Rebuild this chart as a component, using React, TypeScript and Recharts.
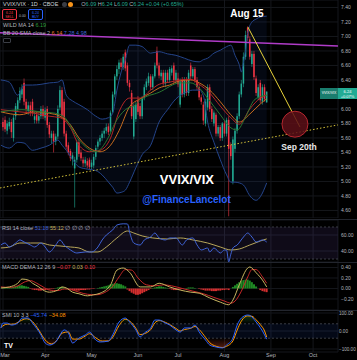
import React from 'react'
import {
  Area,
  Bar,
  CartesianGrid,
  Cell,
  ComposedChart,
  Line,
  ReferenceArea,
  ReferenceDot,
  ReferenceLine,
  XAxis,
  YAxis,
} from 'recharts'

// trading-day index: 0 = Mar 1
const months = ['Mar', 'Apr', 'May', 'Jun', 'Jul', 'Aug', 'Sep', 'Oct']
const monthIdx = [0, 20, 42, 64, 83, 105, 127, 147]

const opens = [
  5.82, 5.85, 5.7, 5.76, 5.82, 5.6, 5.9, 6.0, 6.12, 6.2, 6.36, 6.1, 5.97, 6.05, 6.1, 5.85, 5.92, 5.84, 5.9, 6.0,
  5.88, 6.0, 5.78, 5.6, 5.66, 5.55, 5.62, 6.02, 6.26, 6.1, 5.66, 5.5, 5.42, 5.3, 5.18, 5.3, 5.54, 5.4, 5.3, 5.25,
  5.28, 5.3, 5.2, 5.22, 5.34, 5.48, 5.55, 5.6, 5.66, 5.7, 5.76, 5.7, 5.96, 6.2, 6.45, 6.55, 6.64, 6.58, 6.78, 6.6,
  6.36, 6.22, 5.62, 5.86, 6.12, 6.04, 5.9, 6.15, 6.3, 6.36, 6.45, 6.3, 6.45, 6.8, 6.6, 6.45, 6.5, 6.35, 6.5, 6.4,
  6.5, 6.6, 6.4, 6.42, 6.06, 6.4, 6.2, 6.4, 6.22, 6.6, 6.45, 6.55, 6.4, 6.3, 6.16, 6.06, 5.8, 6.02, 6.3, 6.0,
  5.8, 5.92, 5.66, 5.75, 5.6, 5.8, 5.66, 5.85, 5.5, 5.0, 5.45, 5.7, 5.9, 6.2, 6.35, 6.72, 7.12, 6.96, 6.62, 6.76,
  6.42, 6.16, 6.36, 6.1, 6.3, 6.09,
]
const highs = [
  5.88, 5.9, 5.84, 5.88, 5.86, 5.92, 6.08, 6.16, 6.3, 6.34, 6.42, 6.14, 6.1, 6.1, 6.14, 5.96, 5.96, 5.94, 6.04, 6.05,
  6.02, 6.04, 5.82, 5.7, 5.7, 5.66, 6.05, 6.32, 6.3, 6.14, 5.7, 5.54, 5.45, 5.4, 5.34, 5.58, 5.58, 5.44, 5.34, 5.34,
  5.32, 5.33, 5.3, 5.38, 5.5, 5.58, 5.64, 5.7, 5.74, 5.8, 5.8, 5.98, 6.24, 6.48, 6.6, 6.68, 6.7, 6.76, 6.82, 6.64,
  6.4, 6.26, 6.08, 6.1, 6.18, 6.08, 6.18, 6.34, 6.42, 6.5, 6.48, 6.48, 6.64, 6.86, 6.64, 6.54, 6.54, 6.54, 6.54, 6.58,
  6.6, 6.64, 6.54, 6.5, 6.42, 6.44, 6.44, 6.44, 6.54, 6.64, 6.58, 6.58, 6.44, 6.34, 6.2, 6.1, 6.14, 6.34, 6.34, 6.04,
  5.98, 5.95, 5.78, 5.78, 5.82, 5.84, 5.88, 5.9, 5.54, 5.62, 5.74, 5.94, 6.24, 6.4, 6.78, 7.08, 7.14, 7.0, 6.8, 6.8,
  6.46, 6.34, 6.4, 6.34, 6.34, 6.24,
]
const lows = [
  5.7, 5.68, 5.65, 5.72, 5.6, 5.55, 5.85, 5.96, 6.08, 6.15, 6.05, 5.94, 5.92, 5.9, 5.9, 5.8, 5.8, 5.8, 5.86, 5.86,
  5.84, 5.74, 5.6, 5.52, 5.4, 5.5, 5.58, 5.98, 5.86, 5.62, 5.44, 5.36, 5.28, 5.22, 4.64, 5.26, 5.34, 5.28, 5.2, 5.2,
  5.18, 5.17, 5.16, 5.18, 5.3, 5.44, 5.5, 5.56, 5.6, 5.66, 5.64, 5.68, 5.94, 6.16, 6.4, 6.48, 6.54, 6.54, 6.52, 6.32,
  6.24, 5.86, 5.58, 5.82, 5.92, 5.86, 5.86, 6.12, 6.26, 6.32, 6.26, 6.26, 6.42, 6.56, 6.42, 6.4, 6.32, 6.3, 6.36, 6.36,
  6.46, 6.36, 6.36, 6.3, 6.02, 6.16, 6.16, 6.18, 6.18, 6.4, 6.42, 6.36, 6.26, 6.12, 6.06, 5.78, 5.76, 5.98, 5.96, 5.82,
  5.76, 5.62, 5.62, 5.56, 5.56, 5.62, 5.62, 4.52, 5.3, 4.96, 5.4, 5.66, 5.86, 6.16, 6.3, 6.68, 6.94, 6.68, 6.58, 6.4,
  6.18, 6.12, 6.08, 6.06, 6.1, 6.09,
]
const closes = [
  5.75, 5.72, 5.8, 5.82, 5.68, 5.88, 6.04, 6.12, 6.25, 6.28, 6.1, 6.0, 6.05, 5.95, 5.95, 5.9, 5.84, 5.9, 6.0, 5.9,
  5.98, 5.78, 5.65, 5.66, 5.55, 5.62, 6.0, 6.26, 5.9, 5.66, 5.48, 5.4, 5.32, 5.36, 5.3, 5.54, 5.38, 5.32, 5.25, 5.3,
  5.22, 5.2, 5.26, 5.34, 5.46, 5.55, 5.6, 5.66, 5.7, 5.75, 5.68, 5.95, 6.2, 6.45, 6.55, 6.64, 6.58, 6.72, 6.56, 6.36,
  6.3, 5.9, 6.04, 6.06, 5.96, 5.9, 6.15, 6.3, 6.38, 6.45, 6.3, 6.45, 6.6, 6.6, 6.46, 6.5, 6.36, 6.5, 6.4, 6.55,
  6.56, 6.4, 6.5, 6.34, 6.38, 6.2, 6.4, 6.22, 6.5, 6.45, 6.55, 6.4, 6.3, 6.16, 6.1, 5.84, 6.1, 6.3, 6.0, 5.86,
  5.95, 5.66, 5.75, 5.6, 5.8, 5.66, 5.85, 5.45, 5.35, 5.58, 5.7, 5.9, 6.2, 6.35, 6.72, 7.02, 6.98, 6.72, 6.76, 6.44,
  6.22, 6.3, 6.12, 6.3, 6.14, 6.24,
]

// Bollinger bands, read at these day indices
const bandIdx = [
  -1, 3, 7, 10, 14, 18, 22, 26, 28, 30, 33, 36, 40, 44, 47, 50, 52, 54, 56, 58, 60, 63, 66, 70, 74, 78, 82, 86, 90,
  93, 95, 97, 100, 103, 106, 108, 110, 112, 113, 114, 115, 116, 118, 120, 122, 125,
]
const bbUpper = [
  6.4, 6.37, 6.19, 6.33, 6.33, 6.34, 6.36, 6.37, 6.4, 6.19, 6.11, 6.06, 5.99, 5.9, 5.86, 5.88, 5.94, 6.26, 6.51, 6.68,
  6.88, 6.88, 6.86, 6.77, 6.79, 6.76, 6.74, 6.7, 6.66, 6.65, 6.68, 6.7, 6.77, 6.81, 6.86, 6.88, 6.74, 6.61, 6.51, 6.65,
  6.81, 7.05, 7.2, 7.24, 7.27, 7.28,
]
const bbLower = [
  5.5, 5.46, 5.54, 5.53, 5.43, 5.46, 5.5, 5.57, 5.5, 5.43, 5.3, 5.2, 5.17, 5.15, 5.09, 4.99, 4.92, 4.84, 4.85, 4.88,
  4.99, 5.19, 5.37, 5.5, 5.82, 5.99, 6.14, 6.22, 6.26, 6.26, 6.18, 5.82, 5.54, 5.3, 5.09, 4.99, 4.99, 4.98, 4.97, 4.95,
  4.91, 4.85, 4.77, 4.74, 4.79, 4.98,
]
const bbBasis = [
  [-1, 5.96], [8, 5.92], [15, 5.96], [22, 5.94], [27, 5.9], [32, 5.78], [36, 5.6], [41, 5.46], [46, 5.41], [51, 5.5],
  [55, 5.7], [60, 6.03], [65, 6.14], [70, 6.22], [74, 6.29], [79, 6.33], [84, 6.39], [89, 6.4], [93, 6.36], [98, 6.26],
  [103, 6.1], [108, 5.92], [112, 5.82], [117, 5.93], [122, 6.07], [125, 6.14],
]
const fastMa = [
  [-1, 5.99], [8, 5.96], [15, 5.94], [22, 5.9], [27, 5.88], [32, 5.74], [36, 5.5], [41, 5.41], [46, 5.43], [51, 5.6],
  [55, 5.96], [60, 6.15], [65, 6.15], [70, 6.26], [74, 6.34], [79, 6.37], [84, 6.4], [89, 6.41], [93, 6.34], [98, 6.22],
  [103, 6.04], [108, 5.88], [112, 5.79], [117, 6.0], [122, 6.15], [125, 6.19],
]
const wildMa = [
  [-1, 5.96], [9, 5.99], [18, 5.96], [25, 5.94], [29, 5.89], [36, 5.57], [44, 5.41], [50, 5.61], [53, 5.8], [58, 5.99],
  [63, 6.06], [65, 6.12], [74, 6.23], [84, 6.36], [89, 6.36], [93, 6.29], [97, 6.15], [103, 5.92], [108, 5.74],
  [111, 5.71], [115, 5.89], [119, 6.12], [123, 6.18], [125, 6.19],
]

const rsi = [
  [-1, 47.5], [1, 50], [3, 45], [6, 50], [8, 53.8], [10, 51.3], [13, 47.5], [15, 45], [18, 50], [20, 45], [22, 38.8],
  [25, 47.5], [27, 53.8], [29, 47.5], [32, 41.3], [35, 37.5], [39, 38.8], [42, 38.8], [45, 45], [47, 53.8], [49, 60],
  [52, 66.3], [54, 72.5], [57, 74], [59, 73.8], [60, 63.8], [62, 50], [65, 47.5], [67, 53.8], [70, 57.5], [72, 62.5],
  [74, 56.3], [77, 53.8], [79, 56.3], [82, 56.3], [85, 47.5], [87, 53.8], [90, 56.3], [92, 47.5], [94, 41.3],
  [97, 43.8], [98, 38.8], [100, 43.8], [103, 37.5], [105, 41.3], [106, 41], [107, 26.3], [108, 36], [109, 43.8],
  [111, 47.5], [114, 57.5], [116, 62.5], [118, 57.5], [120, 51.3], [123, 53.8], [125, 51.18],
]
const rsiMa = [
  [-1, 43.8], [3, 45], [8, 50], [13, 50], [18, 50], [22, 47.5], [27, 46.3], [32, 45], [36, 43.8], [41, 38.8],
  [45, 38.8], [49, 45], [54, 56.3], [59, 65], [62, 62.5], [66, 58.8], [71, 56.3], [78, 55], [84, 56.3], [90, 53.8],
  [97, 50], [103, 45], [108, 41.3], [112, 42.5], [117, 47.5], [122, 52.5], [125, 55.12],
]

const macd = [
  [-1, 0.01], [3, 0.03], [7, 0.1], [9, 0.18], [12, 0.16], [14, 0.1], [17, 0.03], [19, -0.03], [22, -0.07], [26, -0.03],
  [28, 0.03], [30, 0.01], [33, -0.07], [36, -0.1], [40, -0.14], [43, -0.12], [46, -0.09], [51, 0.07], [54, 0.35],
  [57, 0.39], [60, 0.31], [65, 0.03], [70, 0.03], [74, 0.1], [79, 0.03], [84, -0.03], [89, -0.07], [93, -0.09],
  [98, -0.18], [103, -0.26], [107, -0.31], [109, -0.22], [112, 0.07], [116, 0.39], [117, 0.41], [120, 0.3],
  [123, 0.16], [125, 0.03],
]
const macdSignal = [
  [-1, 0.03], [3, 0.02], [7, 0.05], [10, 0.12], [13, 0.15], [16, 0.1], [19, 0.03], [22, -0.03], [26, -0.04],
  [29, -0.01], [32, -0.02], [36, -0.07], [40, -0.11], [44, -0.12], [48, -0.08], [52, 0.04], [55, 0.22], [58, 0.36],
  [61, 0.35], [64, 0.2], [68, 0.07], [72, 0.05], [76, 0.07], [80, 0.05], [85, 0.0], [90, -0.05], [95, -0.1],
  [100, -0.17], [105, -0.24], [108, -0.28], [110, -0.24], [113, -0.05], [116, 0.22], [118, 0.36], [120, 0.36],
  [123, 0.22], [125, 0.1],
]
const macdHist = [
  0.02, 0.03, 0.03, 0.02, 0.02, 0.03, 0.04, 0.05, 0.06, 0.06, 0.05, 0.04, 0.03, -0.01, -0.02, -0.03, -0.03, -0.04,
  -0.04, -0.03, -0.03, -0.02, -0.02, -0.01, -0.01, 0.01, 0.02, 0.03, 0.03, 0.02, 0.01, -0.01, -0.02, -0.03, -0.04,
  -0.04, -0.04, -0.03, -0.03, -0.03, -0.02, -0.02, -0.01, -0.01, 0.0, 0.01, 0.02, 0.03, 0.04, 0.05, 0.06, 0.08, 0.09,
  0.1, 0.1, 0.09, 0.08, 0.06, 0.04, -0.02, -0.05, -0.08, -0.1, -0.12, -0.12, -0.11, -0.09, -0.07, -0.05, -0.03,
  -0.01, 0.01, 0.02, 0.03, 0.04, 0.04, 0.03, 0.02, 0.01, -0.01, -0.02, -0.03, -0.03, -0.02, -0.02, -0.01, 0.0, 0.01,
  0.02, 0.02, 0.02, 0.01, 0.0, -0.01, -0.02, -0.03, -0.04, -0.04, -0.04, -0.05, -0.05, -0.05, -0.04, -0.04, -0.03,
  -0.03, -0.02, -0.03, 0.0, 0.03, 0.06, 0.09, 0.12, 0.14, 0.16, 0.17, 0.17, 0.15, 0.12, 0.08, 0.04, 0.0, -0.03,
  -0.05, -0.06, -0.07,
]

const smi = [
  [-1, 16.7], [0, 44], [2, 44], [4, 33], [7, 44], [9, 72], [12, 72], [14, 44], [18, -22], [20, -67], [22, -78],
  [25, -61], [27, -22], [29, 6], [31, -11], [33, -67], [36, -39], [39, -22], [41, -6], [44, -50], [46, -61], [50, -56],
  [52, -22], [55, 50], [58, 72], [60, 50], [63, 6], [65, -33], [67, -11], [70, 17], [72, 61], [74, 61], [77, 44],
  [79, 33], [82, 6], [84, -6], [86, 17], [89, 17], [91, 33], [93, -6], [96, -50], [98, -78], [101, -89], [104, -94],
  [106, -78], [109, -39], [111, 33], [113, 72], [116, 89], [117, 87], [118, 78], [119, 65], [120, 50], [121, 35],
  [122, 18], [123, 0], [124, -22], [125, -45.74],
]
const smiSignal = [
  [-1, 20], [2, 38], [5, 38], [8, 55], [11, 68], [14, 52], [17, 5], [20, -50], [23, -72], [26, -45], [28, -12],
  [31, -5], [33, -45], [36, -45], [39, -28], [41, -15], [44, -38], [47, -56], [50, -55], [52, -35], [55, 30], [58, 65],
  [61, 45], [63, 15], [65, -20], [67, -15], [70, 8], [72, 45], [74, 58], [77, 48], [79, 36], [82, 14], [84, 0],
  [86, 8], [89, 15], [91, 25], [93, 8], [96, -35], [98, -65], [101, -85], [104, -92], [106, -85], [109, -55],
  [111, 5], [113, 55], [116, 84], [118, 82], [120, 62], [122, 35], [124, 0], [125, -34.08],
]

const X_DOMAIN = [-1.42, 158.8]
const TEAL = '#22ab94'
const RED = '#f23645'
const GRID = '#15171c'
const AXIS_TEXT = '#b2b5be'
const FONT = '"Liberation Sans", Arial, sans-serif'

const candles = opens.map((o, i) => ({
  i,
  o,
  h: highs[i],
  l: lows[i],
  c: closes[i],
  range: [lows[i], highs[i]],
}))
const band = bandIdx.map((i, k) => ({ i, upper: bbUpper[k], lower: bbLower[k], band: [bbLower[k], bbUpper[k]] }))
const pts = (arr: number[][]) => arr.map(([i, v]) => ({ i, v }))
const histData = macdHist.map((v, i) => ({ i, v }))
const smiUp = smi.map(([i, v]) => ({ i, r: [40, Math.max(v, 40)] }))
const smiDown = smi.map(([i, v]) => ({ i, r: [Math.min(v, -40), -40] }))

const Candle = (props: any) => {
  const { x, y, width, height, payload } = props
  if (payload == null || height == null) return null
  const { o, h, l, c } = payload
  const top = height < 0 ? y + height : y
  const hh = Math.abs(height)
  const per = hh / (h - l || 1)
  const bodyTop = top + (h - Math.max(o, c)) * per
  const bodyH = Math.max(Math.abs(o - c) * per, 0.8)
  const cx = x + width / 2
  const color = c >= o ? TEAL : RED
  return (
    <g>
      <line x1={cx} x2={cx} y1={top} y2={top + hh} stroke={color} strokeWidth={0.6} />
      <rect x={cx - 0.75} y={bodyTop} width={1.5} height={bodyH} fill={color} />
    </g>
  )
}

const MonthTick = (props: any) => {
  const { x, y, payload } = props
  return (
    <text x={Math.max(x, 5)} y={y} dy={4} textAnchor="middle" fontSize={5.5} fill={AXIS_TEXT} fontFamily={FONT}>
      {months[monthIdx.indexOf(payload.value)] || ''}
    </text>
  )
}

const tick = { fontSize: 5, fill: AXIS_TEXT, fontFamily: FONT }
const fmt2 = (v: number) => (v < 0 ? '\u2212' + Math.abs(v).toFixed(2) : v.toFixed(2))

const xAxis = (hide: boolean) => (
  <XAxis
    dataKey="i"
    type="number"
    domain={X_DOMAIN}
    allowDataOverflow
    ticks={monthIdx}
    interval={0}
    hide={hide}
    height={hide ? 0 : 8}
    tick={<MonthTick />}
    axisLine={false}
    tickLine={false}
    tickSize={0}
    tickMargin={1}
  />
)

const yAxis = (domain: number[], ticks: number[], margin = 3, size = 5) => (
  <YAxis
    orientation="right"
    width={19}
    type="number"
    domain={domain}
    allowDataOverflow
    ticks={ticks}
    interval={0}
    tick={{ ...tick, fontSize: size }}
    tickFormatter={fmt2}
    axisLine={false}
    tickLine={false}
    tickSize={0}
    tickMargin={margin}
  />
)

const textLabel = (value: string, size: number, color: string) => ({
  value,
  position: 'center' as const,
  fill: color,
  fontSize: size,
  fontWeight: 700,
  fontFamily: FONT,
})

const lineProps = { type: 'monotone' as const, strokeWidth: 1, dot: false, activeDot: false, isAnimationActive: false }

const Legend = ({ top, left, children }: any) => (
  <div
    style={{
      position: 'absolute',
      top,
      left,
      fontFamily: FONT,
      fontSize: 5.5,
      lineHeight: 1,
      color: AXIS_TEXT,
      whiteSpace: 'nowrap',
    }}
  >
    {children}
  </div>
)

const sep = (top: number) => (
  <div style={{ position: 'absolute', top, left: 0, width: 357, height: 1, background: '#22252d' }} />
)

export default function App() {
  return (
    <div style={{ position: 'relative', width: 357, height: 360, background: '#000', overflow: 'hidden' }}>
      <style>{'body{margin:0;background:#000}'}</style>

      {/* price pane */}
      <div style={{ position: 'absolute', top: 0, left: 0 }}>
        <ComposedChart width={357} height={218} data={candles} margin={{ top: 0, right: 0, bottom: 0, left: 0 }}>
          <CartesianGrid stroke={GRID} strokeWidth={1} />
          {xAxis(true)}
          {yAxis([4.496, 7.503], [4.6, 4.8, 5.0, 5.2, 5.4, 5.6, 5.8, 6.0, 6.4, 6.6, 6.8, 7.0, 7.2, 7.4])}
          <Area
            data={band}
            dataKey="band"
            type="monotone"
            fill="#1e3a8a"
            fillOpacity={0.13}
            stroke="none"
            dot={false}
            activeDot={false}
            isAnimationActive={false}
          />
          <Line data={band} dataKey="upper" stroke="#24448a" {...lineProps} />
          <Line data={band} dataKey="lower" stroke="#24448a" {...lineProps} />
          <Line data={pts(bbBasis)} dataKey="v" stroke="#c86c1e" {...lineProps} />
          <Line data={pts(fastMa)} dataKey="v" stroke="#b82626" {...lineProps} />
          <Line data={pts(wildMa)} dataKey="v" stroke="#2a7530" {...lineProps} />
          <Bar dataKey="range" barSize={2} shape={Candle} isAnimationActive={false} />
          <ReferenceDot x={138.4} y={5.79} r={13} fill="#5c0f18" fillOpacity={0.85} stroke="#b3262e" strokeWidth={1} />
          <ReferenceLine
            segment={[{ x: -1.42, y: 4.91 }, { x: 158.8, y: 5.78 }]}
            stroke="#d4c23a"
            strokeWidth={1}
            strokeDasharray="1.5 2"
          />
          <ReferenceLine segment={[{ x: -1.42, y: 7.05 }, { x: 158.8, y: 6.87 }]} stroke="#b03cc8" strokeWidth={1.5} />
          <ReferenceLine segment={[{ x: 116.1, y: 7.13 }, { x: 140.8, y: 5.75 }]} stroke="#e8d33a" strokeWidth={1} />
          <ReferenceDot x={115.6} y={7.317} r={0} fill="none" stroke="none" label={textLabel('Aug 15', 10, '#ffffff')} />
          <ReferenceDot x={140.3} y={5.469} r={0} fill="none" stroke="none" label={textLabel('Sep 20th', 8.5, '#e8e8e8')} />
          <ReferenceDot x={87.2} y={5.034} r={0} fill="none" stroke="none" label={textLabel('VVIX/VIX', 13, '#ffffff')} />
          <ReferenceDot x={86.97} y={4.751} r={0} fill="none" stroke="none" label={textLabel('@FinanceLancelot', 10, '#2962ff')} />
        </ComposedChart>
      </div>

      {/* RSI pane */}
      <div style={{ position: 'absolute', top: 220, left: 0 }}>
        <ComposedChart width={357} height={42} margin={{ top: 0, right: 0, bottom: 0, left: 0 }}>
          <CartesianGrid stroke={GRID} />
          {xAxis(true)}
          {yAxis([26.25, 78.75], [40, 60])}
          <ReferenceArea y1={30} y2={70} fill="#7e57c2" fillOpacity={0.12} stroke="none" />
          <ReferenceLine y={70} stroke="#3a3d45" strokeDasharray="2 2" />
          <ReferenceLine y={30} stroke="#3a3d45" strokeDasharray="2 2" />
          <Line data={pts(rsiMa)} dataKey="v" stroke="#b8a75a" {...lineProps} />
          <Line data={pts(rsi)} dataKey="v" stroke="#3f63d6" {...lineProps} />
        </ComposedChart>
      </div>

      {/* MACD pane */}
      <div style={{ position: 'absolute', top: 262, left: 0 }}>
        <ComposedChart width={357} height={48} data={histData} margin={{ top: 0, right: 0, bottom: 0, left: 0 }}>
          <CartesianGrid stroke={GRID} />
          {xAxis(true)}
          {yAxis([-0.41, 0.505], [-0.2, 0, 0.2, 0.4])}
          <Bar dataKey="v" barSize={2} isAnimationActive={false}>
            {histData.map((d) => (
              <Cell key={d.i} fill={d.v >= 0 ? '#1f8a24' : '#d32f2f'} />
            ))}
          </Bar>
          <Line data={pts(macdSignal)} dataKey="v" stroke="#c62828" {...lineProps} />
          <Line data={pts(macd)} dataKey="v" stroke="#c8b560" {...lineProps} />
        </ComposedChart>
      </div>

      {/* SMI pane */}
      <div style={{ position: 'absolute', top: 310, left: 0 }}>
        <ComposedChart width={357} height={50} margin={{ top: 0, right: 0, bottom: 0, left: 0 }}>
          <defs>
            <linearGradient id="smiUp" x1="0" y1="3" x2="0" y2="14" gradientUnits="userSpaceOnUse">
              <stop offset="0" stopColor="#2e7d32" stopOpacity={0.9} />
              <stop offset="1" stopColor="#2e7d32" stopOpacity={0} />
            </linearGradient>
            <linearGradient id="smiDown" x1="0" y1="39" x2="0" y2="28" gradientUnits="userSpaceOnUse">
              <stop offset="0" stopColor="#b23a1e" stopOpacity={0.9} />
              <stop offset="1" stopColor="#b23a1e" stopOpacity={0} />
            </linearGradient>
          </defs>
          <CartesianGrid stroke={GRID} />
          {xAxis(false)}
          {yAxis([-116.7, 116.7], [-100, 0, 100], 1, 4.6)}
          <ReferenceArea y1={-40} y2={40} fill="#2962ff" fillOpacity={0.09} stroke="none" />
          <ReferenceLine y={40} stroke="#3a3d45" strokeDasharray="2 2" />
          <ReferenceLine y={-40} stroke="#3a3d45" strokeDasharray="2 2" />
          <Area data={smiUp} dataKey="r" type="monotone" fill="url(#smiUp)" stroke="none" dot={false} activeDot={false} isAnimationActive={false} />
          <Area data={smiDown} dataKey="r" type="monotone" fill="url(#smiDown)" stroke="none" dot={false} activeDot={false} isAnimationActive={false} />
          <Line data={pts(smiSignal)} dataKey="v" stroke="#ff9800" {...lineProps} />
          <Line data={pts(smi)} dataKey="v" stroke="#2962ff" {...lineProps} />
        </ComposedChart>
      </div>

      {sep(219)}
      {sep(262)}
      {sep(310)}

      {/* current price tag */}
      <div
        style={{
          position: 'absolute',
          top: 88,
          left: 320,
          width: 18,
          height: 11,
          background: '#1a7d6e',
          color: '#fff',
          fontFamily: FONT,
          fontSize: 3.5,
          lineHeight: '11px',
          textAlign: 'center',
        }}
      >
        VVIX/VIX
      </div>
      <div
        style={{
          position: 'absolute',
          top: 88,
          left: 338,
          width: 19,
          height: 11,
          background: TEAL,
          color: '#fff',
          fontFamily: FONT,
          fontSize: 4,
          lineHeight: '5px',
          paddingTop: 1,
          textAlign: 'center',
          boxSizing: 'border-box',
        }}
      >
        6.24
        <br />
        +0.07%
      </div>

      {/* header legends */}
      <Legend top={2} left={3}>
        <span style={{ color: '#d1d4dc' }}>VVIX/VIX · 1D · CBOE</span>
        <span
          style={{
            display: 'inline-block',
            width: 5,
            height: 5,
            borderRadius: 3,
            background: '#3a3d45',
            margin: '0 1px 0 4px',
            verticalAlign: 'top',
          }}
        />
        <span
          style={{
            display: 'inline-block',
            width: 5,
            height: 5,
            borderRadius: 3,
            background: '#f7931a',
            marginRight: 8,
            verticalAlign: 'top',
          }}
        />
        <span>O</span>
        <span style={{ color: TEAL }}>6.09 </span>
        <span>H</span>
        <span style={{ color: TEAL }}>6.24 </span>
        <span>L</span>
        <span style={{ color: TEAL }}>6.09 </span>
        <span>C</span>
        <span style={{ color: TEAL }}>6.24 +0.04 (+0.65%)</span>
      </Legend>
      <div
        style={{
          position: 'absolute',
          top: 9,
          left: 2,
          width: 15,
          height: 11,
          border: '1px solid ' + RED,
          borderRadius: 2,
          boxSizing: 'border-box',
          color: RED,
          fontFamily: FONT,
          fontSize: 3.5,
          lineHeight: '4px',
          textAlign: 'center',
          paddingTop: 1,
        }}
      >
        6.24
        <br />
        SELL
      </div>
      <Legend top={13} left={19}>
        <span style={{ fontSize: 3.5 }}>0.00</span>
      </Legend>
      <div
        style={{
          position: 'absolute',
          top: 9,
          left: 28,
          width: 15,
          height: 11,
          border: '1px solid #2962ff',
          borderRadius: 2,
          boxSizing: 'border-box',
          color: '#2962ff',
          fontFamily: FONT,
          fontSize: 3.5,
          lineHeight: '4px',
          textAlign: 'center',
          paddingTop: 1,
        }}
      >
        6.24
        <br />
        BUY
      </div>
      <Legend top={23} left={3}>
        WILD MA 14 <span style={{ color: '#2e9d3a' }}>6.19</span>
      </Legend>
      <Legend top={31} left={3}>
        BB 20 SMA close 2 <span style={{ color: '#e07b28' }}>6.14</span>{' '}
        <span style={{ color: '#3f63d6' }}>7.28</span> <span style={{ color: '#3f63d6' }}>4.98</span>
      </Legend>
      <div
        style={{
          position: 'absolute',
          top: 38,
          left: 3,
          width: 8,
          height: 5,
          border: '1px solid #3a3d45',
          borderRadius: 1,
          boxSizing: 'border-box',
        }}
      />

      <Legend top={226} left={2}>
        RSI 14 close <span style={{ color: '#3f63d6' }}>51.18</span> <span style={{ color: '#c8b560' }}>55.12</span>{' '}
        ∅ ∅ ∅ ∅
      </Legend>
      <Legend top={265} left={2}>
        MACD DEMA 12 26 9 <span style={{ color: RED }}>−0.07</span> <span style={{ color: '#c8b560' }}>0.03</span>{' '}
        <span style={{ color: RED }}>0.10</span>
      </Legend>
      <Legend top={313} left={2}>
        SMI 10 3 3 <span style={{ color: '#2962ff' }}>−45.74</span> <span style={{ color: '#ff9800' }}>−34.08</span>
      </Legend>
      <div
        style={{
          position: 'absolute',
          top: 342,
          left: 4,
          color: '#fff',
          fontFamily: FONT,
          fontWeight: 700,
          fontSize: 7,
          lineHeight: 1,
        }}
      >
        TV
      </div>
    </div>
  )
}
